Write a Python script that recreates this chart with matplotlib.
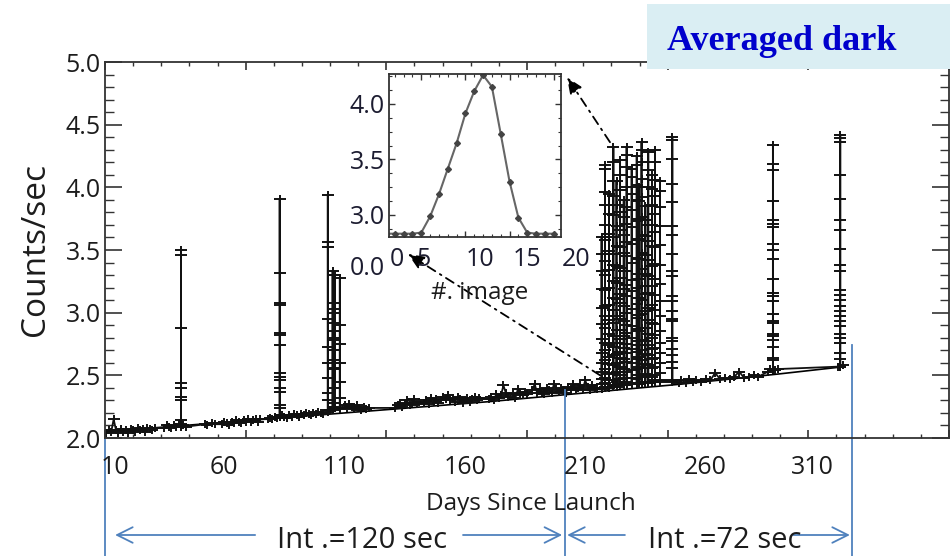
import numpy as np
import matplotlib
matplotlib.use("Agg")
import matplotlib.pyplot as plt
import matplotlib.transforms as mtransforms
from matplotlib.path import Path
from matplotlib.patches import Rectangle
from matplotlib.ticker import MultipleLocator, FormatStrFormatter

plt.rcParams['font.family'] = ['Open Sans', 'DejaVu Sans']

# --- data ----------------------------------------------------------------
# quiet dark level between bursts (days since launch, counts/sec)
base_days = [11, 12, 13, 14, 15, 16, 17, 18, 19, 20, 21, 22, 23, 24, 25, 26, 27, 28, 29, 30, 31,
             35, 36, 37, 38, 39, 40, 41, 43, 44,
             52, 53, 55, 56,
             59, 60, 61, 62, 63, 64, 65, 66, 67, 68, 69, 70, 71, 72, 73, 74, 75,
             78, 79, 80, 81, 82, 84, 85, 86, 87, 88, 89, 90, 91, 92, 93, 94, 95, 96, 97, 98, 99, 100, 101,
             104, 106, 110, 111, 112, 113, 114, 115, 116, 117, 118, 119, 120,
             131, 132, 133, 134, 135, 136, 137, 138, 139, 140, 141,
             143, 144, 145, 146, 147, 148, 149, 150, 151, 152, 153, 154, 155, 156, 157, 158, 159, 160,
             161, 162, 163, 164, 165, 166,
             170, 171, 172, 173, 174, 175, 176, 177, 178, 180, 181, 182, 183, 184, 185, 186,
             188, 189, 190, 191, 192, 193, 194, 195, 196, 197, 198, 199, 200, 201, 202, 203, 204, 205,
             206, 207, 208, 209, 210, 211, 212, 213, 214, 215,
             249, 250, 252, 253, 255, 256, 258, 260, 262, 264, 266, 268, 270, 272, 274, 276, 278, 280, 282,
             286, 287, 289, 290, 315, 317]
base_counts = [2.04, 2.06, 2.05, 2.15, 2.06, 2.04, 2.07, 2.05, 2.06, 2.04, 2.07, 2.06, 2.05, 2.08, 2.06,
               2.07, 2.05, 2.08, 2.07, 2.06, 2.08,
               2.08, 2.10, 2.09, 2.08, 2.10, 2.09, 2.11, 2.10, 2.09,
               2.11, 2.10, 2.12, 2.11,
               2.11, 2.13, 2.12, 2.10, 2.13, 2.12, 2.14, 2.13, 2.12, 2.14, 2.13, 2.15, 2.13, 2.14, 2.15,
               2.13, 2.15,
               2.15, 2.16, 2.15, 2.17, 2.16, 2.18, 2.17, 2.16, 2.18, 2.17, 2.19, 2.18, 2.17, 2.19, 2.18,
               2.20, 2.19, 2.18, 2.20, 2.19, 2.21, 2.20, 2.19,
               2.22, 2.24, 2.26, 2.24, 2.27, 2.25, 2.23, 2.26, 2.24, 2.22, 2.25, 2.23, 2.24,
               2.24, 2.26, 2.28, 2.25, 2.27, 2.30, 2.26, 2.28, 2.31, 2.27, 2.29,
               2.28, 2.30, 2.27, 2.32, 2.29, 2.31, 2.28, 2.30, 2.33, 2.31, 2.34, 2.30, 2.32, 2.29, 2.33,
               2.31, 2.28, 2.30, 2.32, 2.29, 2.31, 2.33, 2.30, 2.32,
               2.31, 2.33, 2.30, 2.35, 2.32, 2.34, 2.42, 2.36, 2.33, 2.35, 2.32, 2.39, 2.36, 2.34, 2.37,
               2.35,
               2.38, 2.43, 2.36, 2.39, 2.37, 2.35, 2.40, 2.38, 2.36, 2.43, 2.39, 2.37, 2.40, 2.38, 2.36,
               2.41, 2.39, 2.43, 2.38, 2.40, 2.42, 2.39, 2.46, 2.41, 2.38, 2.42, 2.40, 2.39,
               2.44, 2.46, 2.44, 2.47, 2.45, 2.46, 2.45, 2.47, 2.46, 2.52, 2.47, 2.48, 2.47, 2.49, 2.53,
               2.48, 2.49, 2.50, 2.49,
               2.53, 2.55, 2.54, 2.55, 2.57, 2.58]

# single-day bursts
spike_days = [42, 83, 103, 105, 106, 108, 288, 316]
spike_42 = [2.09, 2.14, 2.30, 2.33, 2.40, 2.44, 2.88, 3.46, 3.50, 2.10]
spike_83 = [2.17, 2.24, 2.26, 2.37, 2.40, 2.46, 2.49, 2.52, 2.74, 2.82, 2.84, 3.06, 3.08, 3.32, 3.91, 2.18]
spike_103 = [2.21, 2.30, 2.36, 2.48, 2.60, 2.73, 2.95, 3.52, 3.56, 3.94, 2.22]
spike_105 = [2.22, 2.28, 2.40, 2.55, 2.80, 3.03, 3.30, 3.33, 2.24]
spike_106 = [2.24, 2.56, 2.62, 2.70, 2.78, 2.85, 2.92, 3.00, 3.08, 3.30, 2.25]
spike_108 = [2.23, 2.32, 2.45, 2.60, 2.75, 2.90, 3.28, 2.24]
spike_288 = [2.54, 2.62, 2.64, 2.73, 2.78, 2.81, 2.83, 2.92, 2.93, 2.99, 3.09, 3.13, 3.16, 3.27, 3.43,
             3.50, 3.55, 3.68, 3.71, 3.74, 3.89, 4.14, 4.19, 4.34, 2.54]
spike_316 = [2.57, 2.63, 2.68, 2.76, 2.80, 2.83, 2.89, 2.93, 2.97, 3.01, 3.05, 3.10, 3.14, 3.18, 3.33,
             3.38, 3.51, 3.66, 3.74, 3.91, 4.10, 4.36, 4.39, 4.42, 2.57]

# the dense burst around day 217-246
cluster_days = [216.8, 218.2, 219.9, 221.7, 223.0, 224.5, 226.0, 227.2, 229.3, 231.4, 232.4,
                233.4, 235.0, 236.2, 237.8, 239.0, 241.1, 246.2]
cluster_counts = [
    [2.39, 2.43, 2.47, 2.53, 2.60, 2.68, 2.79, 2.91, 3.04, 3.19, 3.33, 3.47, 3.60, 2.40],
    [2.40, 2.44, 2.48, 2.55, 2.62, 2.70, 2.76, 2.88, 2.97, 3.05, 3.18, 3.30, 3.41, 3.58, 3.70, 3.86, 3.96, 4.15, 4.18, 2.41],
    [2.40, 2.46, 2.51, 2.59, 2.65, 2.74, 2.83, 2.94, 3.06, 3.20, 3.34, 3.49, 3.63, 3.79, 3.95, 2.41],
    [2.41, 2.46, 2.52, 2.58, 2.66, 2.73, 2.81, 2.92, 3.02, 3.12, 3.25, 3.38, 3.47, 3.60, 3.78, 3.93, 4.05, 4.20, 4.32, 2.42],
    [2.41, 2.45, 2.53, 2.60, 2.67, 2.76, 2.86, 2.97, 3.11, 3.24, 3.37, 3.53, 3.69, 3.86, 4.05, 2.42],
    [2.42, 2.47, 2.50, 2.57, 2.64, 2.69, 2.79, 2.86, 2.95, 3.08, 3.15, 3.28, 3.36, 3.52, 3.66, 3.80, 3.98, 4.10, 4.22, 2.43],
    [2.42, 2.48, 2.55, 2.63, 2.72, 2.81, 2.93, 3.05, 3.19, 3.33, 3.48, 3.62, 3.76, 3.90, 2.43],
    [2.42, 2.45, 2.53, 2.61, 2.68, 2.75, 2.84, 2.90, 3.00, 3.13, 3.22, 3.33, 3.45, 3.56, 3.71, 3.84, 4.00, 4.16, 4.26, 4.32, 2.43],
    [2.43, 2.48, 2.54, 2.60, 2.71, 2.80, 2.89, 3.03, 3.17, 3.26, 3.40, 3.55, 3.68, 3.82, 3.95, 4.08, 4.15, 2.44],
    [2.43, 2.47, 2.55, 2.63, 2.69, 2.77, 2.87, 2.96, 3.07, 3.20, 3.31, 3.44, 3.58, 3.73, 3.90, 4.02, 4.18, 4.25, 2.44],
    [2.43, 2.50, 2.57, 2.65, 2.74, 2.85, 2.98, 3.12, 3.27, 3.43, 3.59, 3.75, 3.89, 4.00, 2.44],
    [2.44, 2.49, 2.56, 2.62, 2.70, 2.78, 2.88, 2.99, 3.10, 3.21, 3.35, 3.48, 3.62, 3.76, 3.92, 4.07, 4.20, 4.30, 4.36, 2.45],
    [2.44, 2.51, 2.59, 2.67, 2.77, 2.88, 3.01, 3.15, 3.31, 3.46, 3.61, 3.74, 3.85, 2.45],
    [2.44, 2.50, 2.58, 2.66, 2.74, 2.83, 2.94, 3.04, 3.16, 3.29, 3.42, 3.57, 3.70, 3.85, 4.00, 4.14, 4.28, 2.45],
    [2.45, 2.49, 2.56, 2.63, 2.71, 2.80, 2.92, 3.06, 3.21, 3.37, 3.53, 3.70, 3.86, 3.99, 4.10, 2.45],
    [2.45, 2.50, 2.57, 2.64, 2.72, 2.82, 2.91, 3.02, 3.14, 3.27, 3.39, 3.52, 3.64, 3.79, 3.93, 4.06, 4.20, 4.30, 2.46],
    [2.45, 2.52, 2.60, 2.68, 2.76, 2.85, 2.97, 3.09, 3.23, 3.38, 3.54, 3.69, 3.84, 3.97, 4.05, 2.46],
    [2.45, 2.56, 2.61, 2.66, 2.71, 2.77, 2.80, 2.93, 2.95, 3.01, 3.09, 3.13, 3.29, 3.33, 3.47, 3.62, 3.69,
     3.88, 4.03, 4.23, 4.38, 4.40, 2.46],
]

# fitted dark trend
trend_days = [10, 50, 90, 130, 170, 210, 250, 290, 318]
trend_counts = [2.05, 2.11, 2.17, 2.23, 2.29, 2.36, 2.43, 2.51, 2.57]

xtick_labels = [10, 60, 110, 160, 210, 260, 310]

# inset: counts of one burst, image by image
inset_image = [1, 2, 3, 4, 5, 6, 7, 8, 9, 10, 11, 12, 13, 14, 15, 16, 17, 18, 19, 20]
inset_counts = [2.83, 2.83, 2.83, 2.83, 2.84, 2.985, 3.185, 3.415, 3.645, 3.915, 4.115, 4.26,
                4.155, 3.73, 3.30, 2.975, 2.84, 2.83, 2.83, 2.83]
inset_xtick_labels = ['0', '5', '10', '15', '20']
inset_ytick_labels = [3.0, 3.5, 4.0]

# integration-time periods (day edges) and their captions
int_edges = [10.4, 201.6, 320.9]
int_captions = ['Int .=120 sec', 'Int .=72 sec']

# --- layout (pixels of the 950x556 canvas) ------------------------------
W, H = 950, 556
xlabel_nudge = [8, 0, 0, 0, 0, 0, -10]          # points
inset_xlabel_frac = [0.047, 0.198, 0.529, 0.802, 1.087]
edge_tops_px = [438, 390, 345]
caption_x = [117.2, 267.9]
arrow_spans = [((72.8, 14.6), (159.2, 200.4)), ((226.5, 202.5), (296.4, 320.0))]
blue = '#4F81BD'
ink = '#1c1c1c'


def build_series():
    pts = list(zip(base_days, base_counts))
    spikes = [spike_42, spike_83, spike_103, spike_105, spike_106, spike_108, spike_288, spike_316]
    for d, vals in zip(spike_days, spikes):
        pts += [(d, v) for v in vals]
    for d, vals in zip(cluster_days, cluster_counts):
        pts += [(d, v) for v in vals]
    pts.sort(key=lambda p: p[0])
    return [p[0] for p in pts], [p[1] for p in pts]


plus = Path([(-1, 0), (1, 0), (0, -0.65), (0, 0.65)],
            [Path.MOVETO, Path.LINETO, Path.MOVETO, Path.LINETO])

fig = plt.figure(figsize=(W / 100, H / 100), dpi=100)
ax = fig.add_axes([105 / W, 1 - 438 / H, 844 / W, 376 / H])

days, counts = build_series()
ax.plot(trend_days, trend_counts, color='black', lw=1.2)
ax.plot(days, counts, color='#111111', lw=1.3, marker=plus, ms=8.5, mew=1.4)

x0, x1 = 10.4, 361.2
ax.set_xlim(x0, x1)
ax.set_ylim(2.0, 5.0)
ax.set_xticks(np.linspace(x0, x1, 7))
ax.set_xticks(np.linspace(x0, x1, 31), minor=True)
ax.yaxis.set_major_locator(MultipleLocator(0.5))
ax.yaxis.set_minor_locator(MultipleLocator(0.1))
ax.yaxis.set_major_formatter(FormatStrFormatter('%.1f'))
ax.tick_params(axis='y', which='major', direction='in', left=True, right=True, length=12,
               width=1.2, color='#333333', labelsize=18, labelcolor=ink, pad=3)
ax.tick_params(axis='y', which='minor', direction='in', left=True, right=True, length=6.5,
               width=1.0, color='#333333')
ax.tick_params(axis='x', which='major', direction='in', bottom=True, top=True, length=5.5,
               width=1.2, color='#333333', labelbottom=False)
ax.tick_params(axis='x', which='minor', direction='in', bottom=True, top=True, length=3.2,
               width=1.0, color='#333333')
for s in ax.spines.values():
    s.set_color('#333333')
    s.set_linewidth(1.3)

ax.set_ylabel('Counts/sec', fontsize=24, color=ink, labelpad=10)

for lab, nudge in zip(xtick_labels, xlabel_nudge):
    ax.annotate(str(lab), xy=(lab, 0), xycoords=('data', 'axes fraction'),
                xytext=(nudge, -12), textcoords='offset points',
                ha='center', va='top', fontsize=18, color=ink)
ax.annotate('Days Since Launch', xy=(0.5, 0), xycoords='axes fraction',
            xytext=(3, -39), textcoords='offset points',
            ha='center', va='top', fontsize=17.5, color=ink)

# inset
ins = fig.add_axes([389 / W, 1 - 237 / H, 172 / W, 163 / H])
ins.plot(inset_image, inset_counts, color='#666666', lw=1.5, marker='D', ms=3,
         mfc='#444444', mec='#444444')
ins.set_xlim(1.34, 20.83)
ins.set_ylim(2.80, 4.27)
ins.xaxis.set_major_locator(MultipleLocator(5))
ins.xaxis.set_minor_locator(MultipleLocator(1))
ins.set_yticks(inset_ytick_labels)
ins.yaxis.set_minor_locator(MultipleLocator(0.125))
ins.yaxis.set_major_formatter(FormatStrFormatter('%.1f'))
ins.tick_params(which='both', direction='in', top=True, right=True, color='#333333',
                labelbottom=False, labelsize=18, labelcolor='#1c1c30', pad=3)
ins.tick_params(which='major', length=4, width=1.0)
ins.tick_params(which='minor', length=2.5, width=0.8)
for s in ins.spines.values():
    s.set_color('#333333')
    s.set_linewidth(1.3)
for lab, fx in zip(inset_xtick_labels, inset_xlabel_frac):
    ins.annotate(lab, xy=(fx, 0), xycoords='axes fraction', xytext=(0, -7),
                 textcoords='offset points', ha='center', va='top', fontsize=18, color='#1c1c30')
ins.annotate('0.0', xy=(0, 0), xycoords='axes fraction', xytext=(-3, -14),
             textcoords='offset points', ha='right', va='top', fontsize=18, color='#1c1c30')
ins.annotate('#. image', xy=(0.529, 0), xycoords='axes fraction', xytext=(0, -32),
             textcoords='offset points', ha='center', va='top', fontsize=17.5, color=ink)

# dash-dot pointers from the burst to the inset
dd = dict(arrowstyle='-|>,head_length=0.7,head_width=0.3', linestyle=(0, (5, 3, 1, 3)),
          color='black', lw=1.3, shrinkA=0, shrinkB=0, mutation_scale=14)
ax.annotate('', xy=(1.035, 0.98), xycoords=ins.transAxes, xytext=(220.3, 4.36),
            textcoords='data', arrowprops=dd)
ax.annotate('', xy=(0.11, -0.104), xycoords=ins.transAxes, xytext=(216.2, 2.50),
            textcoords='data', arrowprops=dd)

# integration-time brackets under the axis
blend = mtransforms.blended_transform_factory(ax.transData, fig.transFigure)
for d, top in zip(int_edges, edge_tops_px):
    ax.plot([d, d], [1 - top / H, 0], transform=blend, color=blue, lw=1.3, clip_on=False)
arrow_y = 1 - 535 / H
for cap, cx, spans in zip(int_captions, caption_x, arrow_spans):
    fig.text(cx, 1 - 555 / H, cap, transform=blend, ha='center', va='bottom',
             fontsize=21, color=ink)
    for start, end in spans:
        ax.annotate('', xy=(end, arrow_y), xycoords=blend, xytext=(start, arrow_y),
                    textcoords=blend,
                    arrowprops=dict(arrowstyle='->,head_length=0.8,head_width=0.4',
                                    color=blue, lw=1.3, shrinkA=0, shrinkB=0,
                                    mutation_scale=14))

# title box in the corner
fig.add_artist(Rectangle((647 / W, 1 - 69 / H), 303 / W, 65 / H, transform=fig.transFigure,
                         facecolor='#DAEEF3', edgecolor='none', zorder=5))
fig.text(667 / W, 1 - 50 / H, 'Averaged dark', family='Liberation Serif', weight='bold',
         fontsize=26, color='#0000CC', va='baseline', zorder=6)

fig.savefig('out.png', dpi=100)
